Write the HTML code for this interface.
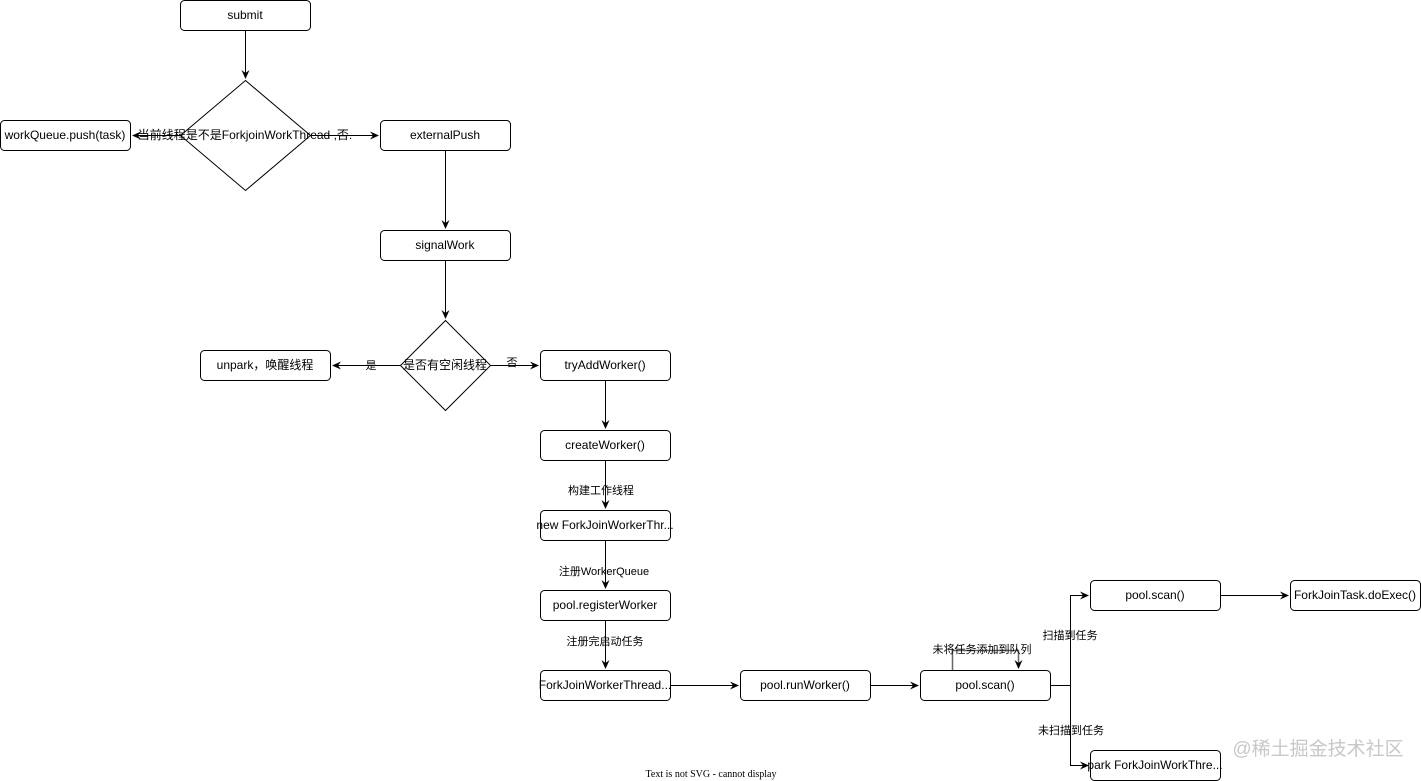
<!DOCTYPE html>
<html><head><meta charset="utf-8"><style>
html,body{margin:0;padding:0;background:#fff;}
svg{display:block;}
text{font-family:"Liberation Sans","Noto Sans CJK SC",sans-serif;font-size:12px;fill:#000;}
.l{font-size:11px;}
</style></head><body>
<svg width="1421" height="781" viewBox="0 0 1421 781" xmlns="http://www.w3.org/2000/svg">
<defs><marker id="a" markerWidth="10" markerHeight="10" refX="8" refY="5" orient="auto" markerUnits="userSpaceOnUse"><path d="M0,1 L9,5 L0,9 L3,5 z" fill="#000"/></marker></defs>
<g fill="#fff" stroke="#000" stroke-width="1">
<rect x="180.5" y="0.5" width="130" height="30" rx="4"/>
<rect x="0.5" y="120.5" width="130" height="30" rx="4"/>
<rect x="380.5" y="120.5" width="130" height="30" rx="4"/>
<rect x="380.5" y="230.5" width="130" height="30" rx="4"/>
<rect x="200.5" y="350.5" width="130" height="30" rx="4"/>
<rect x="540.5" y="350.5" width="130" height="30" rx="4"/>
<rect x="540.5" y="430.5" width="130" height="30" rx="4"/>
<rect x="540.5" y="510.5" width="130" height="30" rx="4"/>
<rect x="540.5" y="590.5" width="130" height="30" rx="4"/>
<rect x="540.5" y="670.5" width="130" height="30" rx="4"/>
<rect x="740.5" y="670.5" width="130" height="30" rx="4"/>
<rect x="920.5" y="670.5" width="130" height="30" rx="4"/>
<rect x="1090.5" y="580.5" width="130" height="30" rx="4"/>
<rect x="1290.5" y="580.5" width="130" height="30" rx="4"/>
<rect x="1090.5" y="750.5" width="130" height="30" rx="4"/>
<path d="M245.5,80.5 L310.5,135.5 L245.5,190.5 L180.5,135.5 z"/>
<path d="M445.5,320.5 L490.5,365.5 L445.5,410.5 L400.5,365.5 z"/>
</g>
<g fill="none" stroke="#000" stroke-width="1">
<path d="M245.5,30.5 V78" marker-end="url(#a)"/>
<path d="M180.5,135.5 H133" marker-end="url(#a)"/>
<path d="M310.5,135.5 H378" marker-end="url(#a)"/>
<path d="M445.5,150.5 V228" marker-end="url(#a)"/>
<path d="M445.5,260.5 V318" marker-end="url(#a)"/>
<path d="M400.5,365.5 H333" marker-end="url(#a)"/>
<path d="M490.5,365.5 H538" marker-end="url(#a)"/>
<path d="M605.5,380.5 V428" marker-end="url(#a)"/>
<path d="M605.5,460.5 V508" marker-end="url(#a)"/>
<path d="M605.5,540.5 V588" marker-end="url(#a)"/>
<path d="M605.5,620.5 V668" marker-end="url(#a)"/>
<path d="M670.5,685.5 H738" marker-end="url(#a)"/>
<path d="M870.5,685.5 H918" marker-end="url(#a)"/>
<path d="M1050.5,685.5 H1070.5 V595.5 H1088" marker-end="url(#a)"/>
<path d="M1070.5,685.5 V765.5 H1088" marker-end="url(#a)"/>
<path d="M1220.5,595.5 H1288" marker-end="url(#a)"/>
<path d="M952.5,670 V650.5 H1018.5 V668" stroke="#666" stroke-width="1.5" marker-end="url(#a)"/>
</g>
<g text-anchor="middle">
<text x="245" y="19">submit</text>
<text x="65" y="139">workQueue.push(task)</text>
<text x="445" y="139">externalPush</text>
<text x="445" y="249">signalWork</text>
<text x="265" y="369">unpark，唤醒线程</text>
<text x="605" y="369">tryAddWorker()</text>
<text x="605" y="449">createWorker()</text>
<text x="605" y="529">new ForkJoinWorkerThr...</text>
<text x="605" y="609">pool.registerWorker</text>
<text x="605" y="689">ForkJoinWorkerThread...</text>
<text x="805" y="689">pool.runWorker()</text>
<text x="985" y="689">pool.scan()</text>
<text x="1155" y="599">pool.scan()</text>
<text x="1355" y="599">ForkJoinTask.doExec()</text>
<text x="1155" y="769">park ForkJoinWorkThre...</text>
<text x="245" y="139">当前线程是不是ForkjoinWorkThread ,否.</text>
<text x="445" y="369">是否有空闲线程</text>
<text class="l" x="371" y="369">是</text>
<text class="l" x="512" y="366">否</text>
<text class="l" x="601" y="494">构建工作线程</text>
<text class="l" x="604" y="575">注册WorkerQueue</text>
<text class="l" x="605" y="645">注册完启动任务</text>
<text class="l" x="982" y="653">未将任务添加到队列</text>
<text class="l" x="1070" y="639">扫描到任务</text>
<text class="l" x="1071" y="734">未扫描到任务</text>
<text x="711" y="777" style="font-family:'Liberation Serif',serif;font-size:10px">Text is not SVG - cannot display</text>
<text x="1318" y="755" style="font-size:19px;fill:#c8c8c8">@稀土掘金技术社区</text>
</g>
</svg>
</body></html>
